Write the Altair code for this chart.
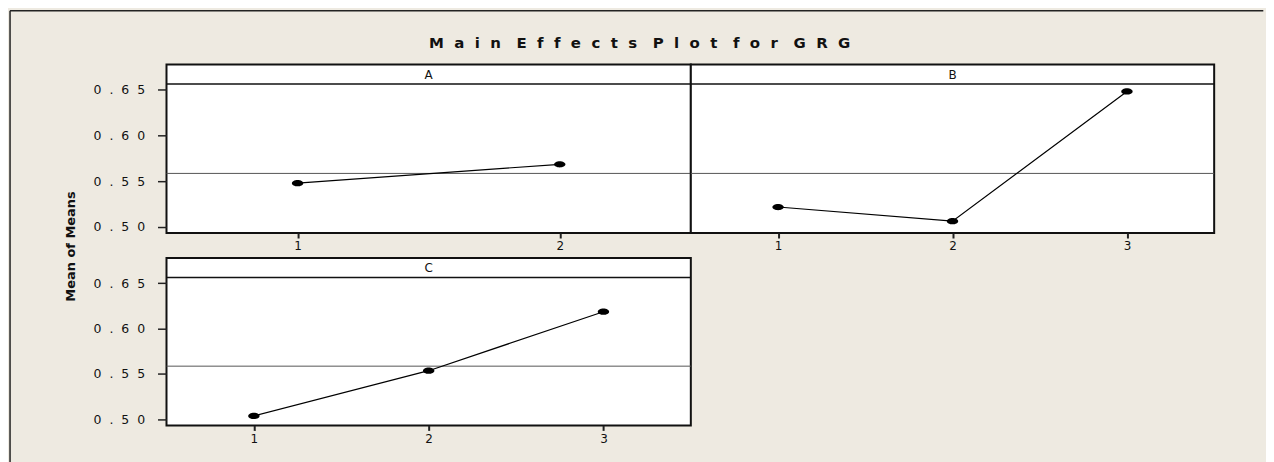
import altair as alt
import pandas as pd

# ---- data ----
levels_A = [1, 2]
means_A = [0.5478, 0.5685]
levels_B = [1, 2, 3]
means_B = [0.5217, 0.5062, 0.6483]
levels_C = [1, 2, 3]
means_C = [0.5036, 0.5535, 0.6185]
grand_mean = 0.5585
y_ticks = [0.50, 0.55, 0.60, 0.65]

NB = "\u00a0"
TITLE_WORDS = ["Main", "Effects", "Plot", "for", "GRG"]
TITLE = (NB + NB + " ").join((NB + " ").join(list(w)) for w in TITLE_WORDS)
BG = "#EEEAE1"
FONT = "DejaVu Sans"
Y_DOMAIN = [0.4932, 0.6778]
STRIP_H = 19.6
ELLIPSE = "M-1,0 A1,0.55 0 1,1 1,0 A1,0.55 0 1,1 -1,0 Z"


def panel(name, levels, means, width, height, x_domain, show_y, y_title=None, frame=False):
    df = pd.DataFrame({"level": levels, "mean": means})
    x = alt.X(
        "level:Q",
        scale=alt.Scale(domain=x_domain, nice=False, zero=False),
        axis=alt.Axis(values=levels, format="d", title=None, grid=False, domain=False,
                      tickSize=5, tickWidth=2, tickColor="#222", labelPadding=3,
                      labelFontSize=12, labelFont=FONT, labelColor="#111"),
    )
    if show_y:
        ax = dict(values=y_ticks,
                  labelExpr="join(split(format(datum.value, '.2f'), ''), '" + NB + " ')",
                  grid=False, domain=False, tickSize=9, tickWidth=1.5, tickColor="#222",
                  labelPadding=13, labelFontSize=12.5, labelFont=FONT, labelColor="#111")
        if y_title:
            ax.update(title=y_title, titleFont=FONT, titleFontWeight="bold", titleFontSize=13,
                      titleColor="#111", titleX=-96, titleY=182, titleAngle=270,
                      titleAlign="center", titleBaseline="middle")
        else:
            ax.update(title=None)
        yaxis = alt.Axis(**ax)
    else:
        yaxis = None
    y = alt.Y("mean:Q", scale=alt.Scale(domain=Y_DOMAIN, nice=False, zero=False), axis=yaxis)

    base = alt.Chart(df)
    line = base.mark_line(color="black", strokeWidth=1.2).encode(x=x, y=y)
    pts = base.mark_point(shape=ELLIPSE, filled=True, color="black", size=130, opacity=1).encode(x=x, y=y)
    gm = alt.Chart(pd.DataFrame({"mean": [grand_mean]})).mark_rule(color="#555", strokeWidth=1).encode(y=y)
    strip_df = pd.DataFrame({"factor": [name]})
    strip_line = alt.Chart(strip_df).mark_rule(color="#111", strokeWidth=1.5).encode(
        x=alt.value(0), x2=alt.value(width), y=alt.value(STRIP_H))
    strip_text = alt.Chart(strip_df).mark_text(font=FONT, fontSize=12, color="#111", baseline="middle").encode(
        x=alt.value(width / 2), y=alt.value(STRIP_H / 2 + 0.5), text="factor:N")
    layers = [gm, strip_line, strip_text, line, pts]
    if frame:
        title_df = pd.DataFrame({"t": [TITLE]})
        top_line = alt.Chart(title_df).mark_rule(color="#222", strokeWidth=1.5).encode(
            x=alt.value(-156.95), x2=alt.value(1258 - 157.7), y=alt.value(-53.95))
        left_line = alt.Chart(title_df).mark_rule(color="#222", strokeWidth=1.5).encode(
            x=alt.value(-156.95), y=alt.value(-53.95), y2=alt.value(454 - 54.7))
        title_txt = alt.Chart(title_df).mark_text(font=FONT, fontSize=15, fontWeight="bold", color="#111",
                                                  align="left", baseline="middle").encode(
            x=alt.value(263.3), y=alt.value(-21.5), text="t:N")
        layers = [top_line, left_line, title_txt] + layers
    return alt.layer(*layers).properties(width=width, height=height)


pA = panel("A", levels_A, means_A, 526, 169, [0.5, 2.5], True, "Mean of Means", frame=True)
pB = panel("B", levels_B, means_B, 525, 169, [0.5, 3.5], False)
pC = panel("C", levels_C, means_C, 526, 168, [0.5, 3.5], True)

chart = alt.concat(pA, pB, pC, columns=2, spacing={"row": 25, "column": 0}, bounds="flush").properties(
    padding=0,
).configure(background=BG).configure_view(stroke="#111", strokeWidth=2, fill="white")

chart.save("out.html", embed_options={"renderer": "svg", "actions": False})
